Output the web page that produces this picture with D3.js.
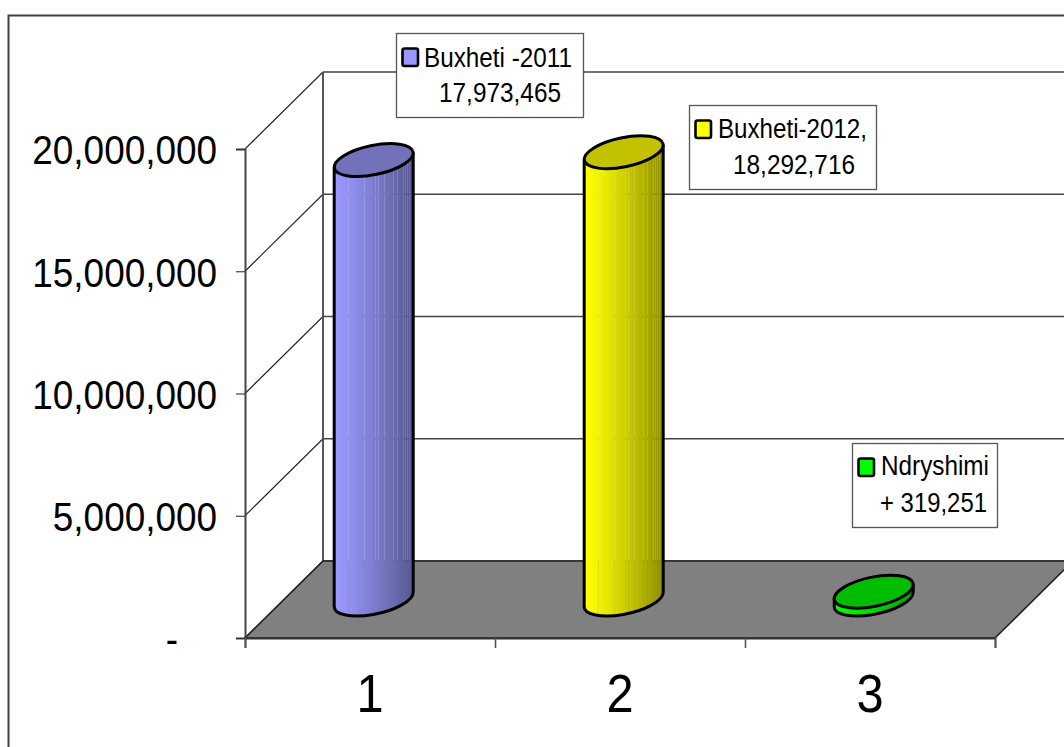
<!DOCTYPE html>
<html>
<head>
<meta charset="utf-8">
<script src="https://cdnjs.cloudflare.com/ajax/libs/d3/7.8.5/d3.min.js"></script>
<style>
  html, body { margin: 0; padding: 0; background: #fff; overflow: hidden; }
  text { font-family: "Liberation Sans", Arial, sans-serif; fill: #000; }
</style>
</head>
<body>
<div id="chart"></div>
<script>
// dados
const categories = ["1", "2", "3"];
const values = [17973465, 18292716, 319251];
const yTicks = [0, 5000000, 10000000, 15000000, 20000000];
const labelLines = [
  ["Buxheti -2011", "17,973,465"],
  ["Buxheti-2012,", "18,292,716"],
  ["Ndryshimi", "+ 319,251"],
];
const keyColors = ["#9999ff", "#ffff00", "#00ff00"];
const topColors = ["#7272ba", "#c2c200", "#00bd00"];
const darkColors = ["#56568f", "#8f8f00", "#00a000"];

const width = 1064;
const height = 747;

// caixa 3D
const x0 = 245, x1 = 995, yBase = 638, yTop = 149;
const depthX = 78, depthY = 77;
const rx = 40.2, ry = 14.6, tilt = -11.75;
const halfW = 39.5, sideDy = 7;

const svg = d3.select("#chart").append("svg")
  .attr("width", width)
  .attr("height", height);

const y = d3.scaleLinear().domain([0, 20000000]).range([yBase, yTop]);
const xEdge = d3.scaleLinear().domain([0, 3]).range([x0, x1]);
const xBand = d3.scaleBand().domain(categories).range([x0, x1]);

// texto estreitado na horizontal, como no original
function condense(sel, k) {
  sel.each(function () {
    const len = this.getComputedTextLength();
    d3.select(this).attr("textLength", len * k).attr("lengthAdjust", "spacingAndGlyphs");
  });
}

// moldura
svg.append("path")
  .attr("d", `M8.5,${height + 5}V15.5H${width + 5}`)
  .attr("fill", "none")
  .attr("stroke", "#404040")
  .attr("stroke-width", 2);

// parede do fundo e linhas de grade
const gridG = svg.append("g").attr("fill", "none").attr("stroke", "#444");
gridG.selectAll(".back")
  .data(yTicks)
  .join("line")
  .attr("stroke-width", 1.6)
  .attr("x1", x0 + depthX).attr("x2", width + 5)
  .attr("y1", (d) => y(d) - depthY).attr("y2", (d) => y(d) - depthY);
gridG.selectAll(".side")
  .data(yTicks)
  .join("line")
  .attr("stroke", "#222")
  .attr("stroke-width", 1.1)
  .attr("x1", x0).attr("x2", x0 + depthX)
  .attr("y1", (d) => y(d)).attr("y2", (d) => y(d) - depthY);
gridG.append("line")
  .attr("stroke-width", 1.8)
  .attr("x1", x0 + depthX).attr("x2", x0 + depthX)
  .attr("y1", y(20000000) - depthY).attr("y2", y(0) - depthY);

// chão
svg.append("path")
  .attr("d", `M${x0},${yBase}L${x1},${yBase}L${x1 + depthX},${yBase - depthY}L${x0 + depthX},${yBase - depthY}Z`)
  .attr("fill", "#808080")
  .attr("stroke", "#222")
  .attr("stroke-width", 1.6);

// eixos
const axisY = d3.axisLeft(y)
  .tickValues(yTicks)
  .tickSize(9)
  .tickPadding(19)
  .tickFormat((d) => (d === 0 ? "-" : d3.format(",")(d)));
const gy = svg.append("g").attr("transform", `translate(${x0},0)`).call(axisY);
gy.selectAll("text").attr("font-size", 41).attr("dy", "0.36em").call(condense, 0.9);
// o traço do zero fica mais à esquerda
gy.selectAll("text").filter((d) => d === 0).attr("x", -67).attr("dy", "0.36em");

const axisX = d3.axisBottom(xEdge).tickValues(d3.range(0, 4)).tickSize(10).tickFormat("");
const gx = svg.append("g").attr("transform", `translate(0,${yBase})`).call(axisX);
gy.selectAll("path").attr("stroke", "#444").attr("stroke-width", 2);
gy.selectAll("line").attr("stroke", "#333").attr("stroke-width", 1.1);
gx.selectAll("path").attr("stroke", "#333").attr("stroke-width", 1.8);
gx.selectAll("line").attr("stroke", "#555").attr("stroke-width", 1.6);

svg.append("g").selectAll("text")
  .data(categories)
  .join("text")
  .attr("x", (d) => xBand(d) + xBand.bandwidth() / 2)
  .attr("y", 712)
  .attr("text-anchor", "middle")
  .attr("font-size", 53)
  .text((d) => d)
  .call(condense, 0.92);

// degradês dos cilindros, com as emendas finas entre as facetas
const seams = [0.18, 0.39, 0.52, 0.57, 0.64, 0.76, 0.81, 0.88, 0.91, 0.94, 0.96];
const defs = svg.append("defs");
values.forEach((v, i) => {
  const grad = defs.append("linearGradient").attr("id", "cyl" + i);
  const steps = 79;
  const col = d3.interpolateRgb(keyColors[i], darkColors[i]);
  d3.range(steps).forEach((s) => {
    const t = s / (steps - 1);
    const shade = col(Math.pow(t, 1.25));
    const isSeam = seams.some((o) => Math.abs(o - t) < 0.5 / steps);
    [s / steps, (s + 1) / steps].forEach((off) => {
      grad.append("stop")
        .attr("offset", off)
        .attr("stop-color", shade)
        .attr("stop-opacity", isSeam ? 0.85 : 1);
    });
  });
});

// cilindros
const cylinders = svg.append("g").selectAll("g")
  .data(values)
  .join("g")
  .attr("transform", (d, i) => {
    const cx = xBand(categories[i]) + xBand.bandwidth() / 2 + 3.7;
    return `translate(${cx},0)`;
  });

cylinders.append("path")
  .attr("d", (d) => {
    const yb = y(0) - depthY / 2;
    const yt = y(d) - depthY / 2;
    return `M${-halfW},${yt + sideDy}L${-halfW},${yb + sideDy}` +
      `A${rx},${ry} ${tilt} 0 0 ${halfW},${yb - sideDy}` +
      `L${halfW},${yt - sideDy}Z`;
  })
  .attr("fill", (d, i) => `url(#cyl${i})`)
  .attr("stroke", "#000")
  .attr("stroke-width", 3)
  .attr("stroke-linejoin", "round");

cylinders.append("ellipse")
  .attr("rx", rx)
  .attr("ry", ry)
  .attr("transform", (d) => `translate(0,${y(d) - depthY / 2}) rotate(${tilt})`)
  .attr("fill", (d, i) => topColors[i])
  .attr("stroke", "#000")
  .attr("stroke-width", 3);

// rótulos
const boxW = [187, 187, 145];
const boxX = [396.5, 689.5, 852.5];
const boxY = [33.5, 105.5, 443.5];
const line1X = [424, 718, 881];
const line2X = [439, 733, 880];
const line1Len = [148, 149, 108];
const line2Len = [122, 122, 107];
const line1Dy = [33, 32, 31];
const line2Dy = [68, 68, 68];

const labels = svg.append("g").selectAll("g")
  .data(labelLines)
  .join("g");

labels.append("rect")
  .attr("x", (d, i) => boxX[i])
  .attr("y", (d, i) => boxY[i])
  .attr("width", (d, i) => boxW[i])
  .attr("height", 84)
  .attr("fill", "#fff")
  .attr("stroke", "#555")
  .attr("stroke-width", 1.3);

labels.append("rect")
  .attr("x", (d, i) => boxX[i] + 6)
  .attr("y", (d, i) => boxY[i] + 15)
  .attr("width", 15.5)
  .attr("height", 17.5)
  .attr("rx", 2)
  .attr("fill", (d, i) => keyColors[i])
  .attr("stroke", "#000")
  .attr("stroke-width", 2.6);

labels.append("text")
  .attr("x", (d, i) => line1X[i])
  .attr("y", (d, i) => boxY[i] + line1Dy[i])
  .attr("font-size", 27)
  .attr("textLength", (d, i) => line1Len[i])
  .attr("lengthAdjust", "spacingAndGlyphs")
  .text((d) => d[0]);

labels.append("text")
  .attr("x", (d, i) => line2X[i])
  .attr("y", (d, i) => boxY[i] + line2Dy[i])
  .attr("font-size", 27)
  .attr("textLength", (d, i) => line2Len[i])
  .attr("lengthAdjust", "spacingAndGlyphs")
  .text((d) => d[1]);
</script>
</body>
</html>
